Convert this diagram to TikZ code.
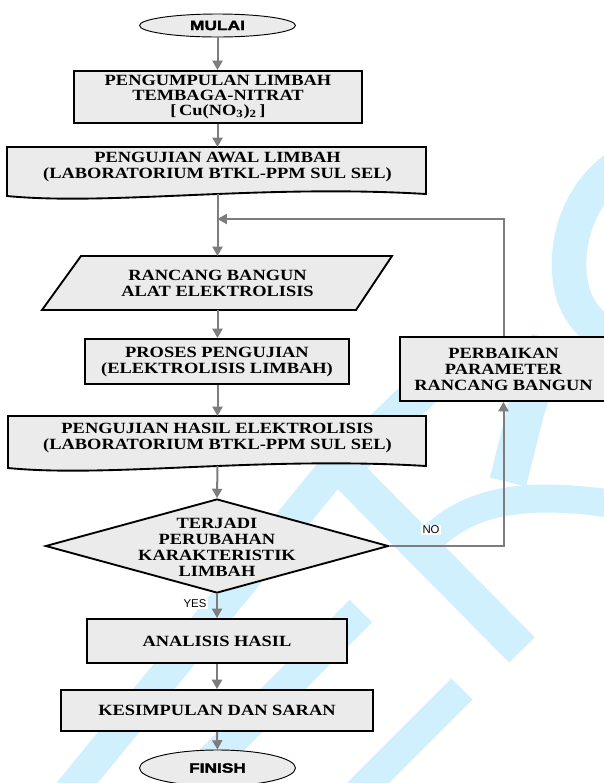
\documentclass[tikz,border=0pt]{standalone}
\usepackage{fontspec}
\setmainfont{Liberation Serif}
\newfontfamily\boxfamily{Liberation Serif}[FakeStretch=1.18]
\newfontfamily\termfamily{Liberation Sans}[FakeStretch=1.3,FakeBold=2.5]
\newfontfamily\labfamily{Liberation Sans}
\usetikzlibrary{arrows.meta,shapes.geometric}
\definecolor{boxfill}{RGB}{235,235,235}
\definecolor{linegray}{RGB}{125,125,125}
\definecolor{wmcyan}{RGB}{207,240,252}
\newcommand\boxfont{\boxfamily\bfseries\fontsize{11.7}{12}\selectfont}
\newcommand\termfont{\termfamily\bfseries\fontsize{10}{11}\selectfont}
\newcommand\labfont{\labfamily\fontsize{8.5}{9}\selectfont}
\begin{document}
\begin{tikzpicture}[x=0.75pt,y=-0.75pt,
  shapeline/.style={draw=black, line width=1.4pt, fill=boxfill},
  box/.style={shapeline, inner sep=0pt, align=center, font=\boxfont},
  txt/.style={inner sep=0pt, align=center, font=\boxfont},
  term/.style={ellipse, draw=black, line width=0.7pt, fill=boxfill, inner sep=0pt, font=\termfont},
  conn/.style={draw=linegray, line width=1.5pt, -{Triangle[length=7pt,width=7.5pt]}},
  lab/.style={fill=white, inner sep=1pt, font=\labfont},
  wm/.style={draw=wmcyan, line cap=butt, line join=miter}
]
\useasboundingbox (0,0) rectangle (604,783);

% watermark
\draw[wm, line width=27pt] (445,368) -- (342,468) -- (522,650);
\draw[wm, line width=24pt] (336,466) -- (55,810);
\draw[wm, line width=24pt] (361,611) -- (170,802);
\draw[wm, line width=22.5pt] (462,689) -- (350,801);
\draw[wm, line width=26pt] (650,152) .. controls (584,170) and (560,240) .. (572,290) .. controls (580,320) and (600,335) .. (635,348);
\draw[wm, line width=28pt] (550,340) -- (526,410) -- (508,482);
\draw[wm, line width=21pt] (420,550) .. controls (460,505) and (510,488) .. (620,505);

% terminals
\node[term, minimum width=117pt, minimum height=17.25pt] (mulai) at (217.5,25.5) {MULAI};
\node[term, minimum width=117pt, minimum height=27pt] (finish) at (217.5,768) {FINISH};

% process box 1
\node[box, minimum width=216pt, minimum height=39pt, font=\boxfont\fontsize{11.7}{11.25}\selectfont] (kumpul) at (218,97)
  {PENGUMPULAN LIMBAH\\TEMBAGA-NITRAT\\{[}\,Cu(NO\textsubscript{3})\textsubscript{2}\,{]}};

% document 1
\path[shapeline] (7,147) -- (426,147) -- (426,194) .. controls (260,184) and (110,206) .. (7,196) -- cycle;
\node[txt] (uji1) at (217.5,167) {PENGUJIAN AWAL LIMBAH\\(LABORATORIUM BTKL-PPM SUL SEL)};
\coordinate (uji1b) at (217.5,194);

% parallelogram
\path[shapeline] (81,256) -- (392,256) -- (356,310) -- (42,310) -- cycle;
\node[txt] (rancang) at (217.5,283) {RANCANG BANGUN\\ALAT ELEKTROLISIS};
\coordinate (rancangt) at (217.5,256);
\coordinate (rancangb) at (217.5,310);

% process
\node[box, minimum width=198pt, minimum height=33.75pt] (proses) at (217,361.5)
  {PROSES PENGUJIAN\\(ELEKTROLISIS LIMBAH)};

% document 2
\path[shapeline] (8,416) -- (426,416) -- (426,466) .. controls (260,456) and (110,478) .. (8,468) -- cycle;
\node[txt] (uji2) at (217.5,437.5) {PENGUJIAN HASIL ELEKTROLISIS\\(LABORATORIUM BTKL-PPM SUL SEL)};
\coordinate (uji2t) at (217.5,416);
\coordinate (uji2b) at (217.5,466);

% perbaikan
\node[box, minimum width=155.25pt, minimum height=48pt] (perb) at (503.5,369)
  {PERBAIKAN\\PARAMETER\\RANCANG BANGUN};

% decision
\node[diamond, shapeline, minimum width=257.25pt, minimum height=70.5pt, inner sep=0pt] (dia) at (217,546) {};
\node[txt] (diatxt) at (217,547) {TERJADI\\PERUBAHAN\\KARAKTERISTIK\\LIMBAH};

% analisis, kesimpulan
\node[box, minimum width=195pt, minimum height=33pt] (anal) at (217,641) {ANALISIS HASIL};
\node[box, minimum width=233.6pt, minimum height=30.75pt] (kesim) at (217,710.5) {KESIMPULAN DAN SARAN};

% connectors
\coordinate (fbj) at (217.5,219);
\draw[conn] (mulai.south) -- (kumpul.north -| mulai.south);
\draw[conn] (kumpul.south -| mulai.south) -- (217.5,147);
\draw[conn] (uji1b) -- (rancangt);
\draw[conn] (perb.north) |- (fbj);
\draw[conn] (rancangb) -- (proses.north -| rancangb);
\draw[conn] (proses.south -| rancangb) -- (uji2t);
\draw[conn] (uji2b) -- (dia.north);
\draw[conn] (dia.east) -| (perb.south);
\draw[conn] (dia.south) -- (anal.north);
\draw[conn] (anal.south) -- (kesim.north);
\draw[conn] (kesim.south) -- (finish.north);

\node[lab] (no) at (431,530) {NO};
\node[lab] (yes) at (195,604) {YES};
\end{tikzpicture}
\end{document}
